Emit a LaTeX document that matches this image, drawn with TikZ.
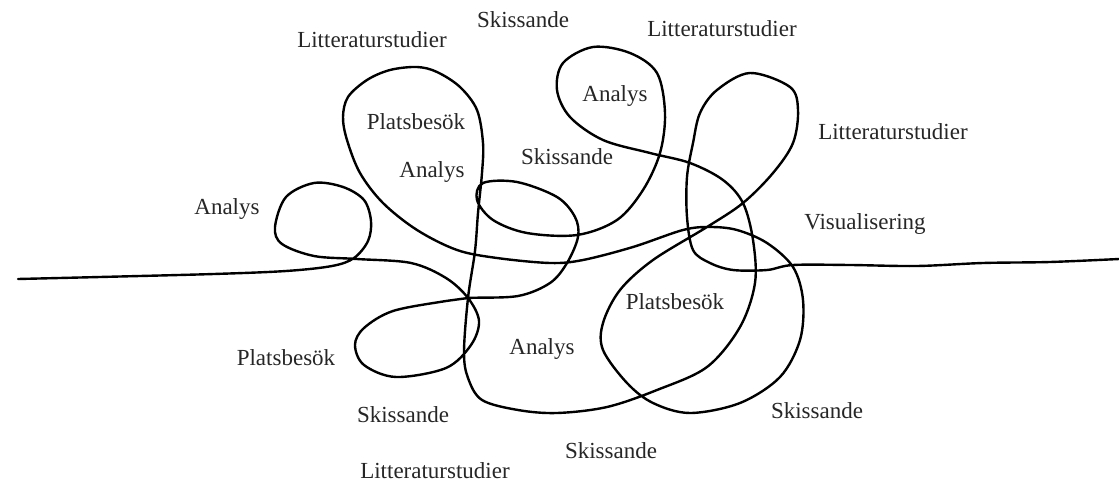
\documentclass[tikz,border=0pt]{standalone}
\usepackage{fontspec}
\setmainfont{Liberation Serif}
\usepackage{tikz}
\usetikzlibrary{positioning}

\begin{document}
\begin{tikzpicture}[
    x=1pt, y=-1pt,
    every node/.style={font=\fontsize{23}{27}\selectfont, inner sep=0pt},
    word/.style={anchor=base, text=black!85},
    scribble/.style={line width=2.4pt, line cap=round, line join=round, color=black}
]
\useasboundingbox (0,0) rectangle (1119,486);

% Linjen
\draw[scribble] plot[smooth, tension=0.55] coordinates {
    (18,279) (100,277) (214,274) (286,271) (332,266) (354,258) (368,241)
    (371,221) (364,200) (343,187) (314,183) (286,197) (275,227) (282,244)
    (314,256) (357,259) (411,263) (446,278) (468,298) (479,321) (471,345)
    (446,368) (396,377) (364,365) (355,345) (364,328) (393,311) (446,301)
    (468,298) (518,296) (550,283) (567,263) (578,237) (575,217) (557,197)
    (517,182) (483,183) (477,200) (493,220) (527,233) (577,235) (617,220)
    (643,190) (660,153) (665,113) (657,73) (630,53) (593,47) (563,63)
    (557,90) (570,117) (603,140) (650,153) (690,163) (723,180) (743,203)
    (753,240) (755,283) (740,327) (707,367) (657,390) (607,407) (557,413)
    (518,410) (482,400) (468,378) (464,352) (468,298) (475,251) (478,213)
    (482,173) (483,143) (477,110) (460,87) (437,72) (417,67) (390,70)
    (367,80) (348,97) (343,117) (347,140) (360,173) (383,203) (417,230)
    (457,250) (497,258) (550,263) (583,260) (633,247) (683,230) (710,227)
    (737,230) (767,243) (793,267) (803,300) (800,340) (780,377) (740,403)
    (690,413) (653,403) (627,383) (603,350) (603,323) (620,290) (653,260)
    (707,227) (743,203) (773,173) (793,143) (798,110) (790,87) (750,73)
    (717,90) (700,113) (693,143) (687,177) (687,217) (693,250) (710,263)
    (733,270) (767,270) (793,265) (850,265) (917,266) (983,263) (1050,262)
    (1119,259)};

% Etiketter
\node[word] (lit1) at (372,48) {Litteraturstudier};
\node[word] (skiss1) at (523,28) {Skissande};
\node[word] (lit2) at (722,37) {Litteraturstudier};
\node[word] (analys1) at (615,102) {Analys};
\node[word] (plats1) at (416,130) {Platsbesök};
\node[word] (analys2) at (432,178) {Analys};
\node[word] (skiss2) at (567,165) {Skissande};
\node[word] (lit3) at (893,140) {Litteraturstudier};
\node[word] (analys3) at (227,215) {Analys};
\node[word] (visual) at (865,230) {Visualisering};
\node[word] (plats2) at (675,310) {Platsbesök};
\node[word] (plats3) at (286,365) {Platsbesök};
\node[word] (analys4) at (542,354) {Analys};
\node[word] (skiss3) at (403,422) {Skissande};
\node[word] (skiss4) at (817,418) {Skissande};
\node[word] (skiss5) at (611,458) {Skissande};
\node[word] (lit4) at (435,478) {Litteraturstudier};

\end{tikzpicture}
\end{document}
